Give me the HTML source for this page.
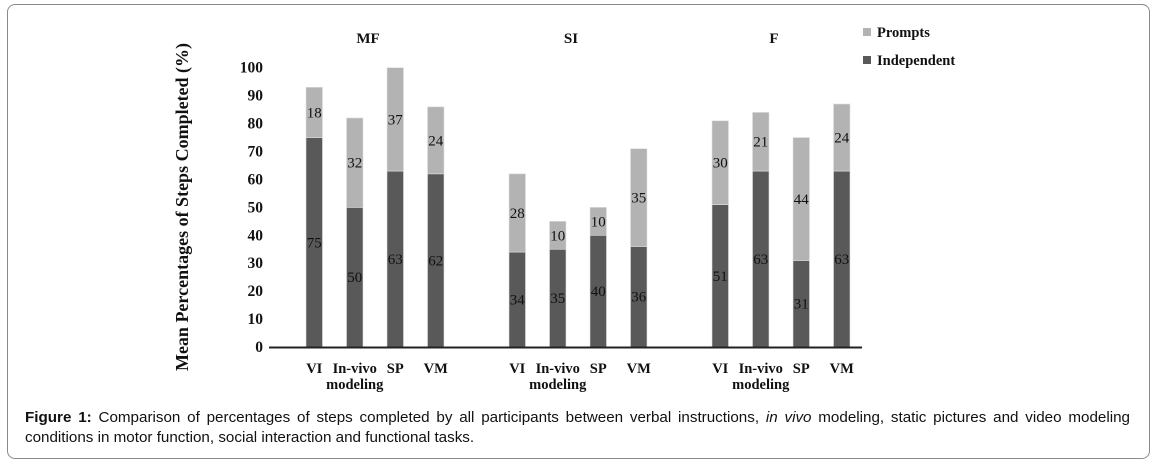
<!DOCTYPE html>
<html><head><meta charset="utf-8"><style>
body{margin:0;background:#fff;}
#wrap{position:relative;width:1158px;height:465px;overflow:hidden;}
#frame{position:absolute;left:7px;top:4px;width:1143px;height:455px;border:1.5px solid #8a8a8a;border-radius:8px;box-sizing:border-box;}
#cap{position:absolute;left:25px;top:408px;width:1105px;font:15.2px "Liberation Sans",Arial,sans-serif;line-height:20px;text-align:justify;text-align-last:left;color:#111;}
svg text{font-family:"Liberation Serif",serif;}
</style></head><body>
<div id="wrap">
<div id="frame"></div>
<svg id="chart" width="1158" height="465" style="position:absolute;left:0;top:0"></svg>
<div id="cap"><b>Figure 1:</b> Comparison of percentages of steps completed by all participants between verbal instructions, <i>in vivo</i> modeling, static pictures and video modeling conditions in motor function, social interaction and functional tasks.</div>
</div>
<script>
const groups = ["MF","SI","F"];
const conditions = ["VI","In-vivo","SP","VM"];
const independent = [[75,50,63,62],[34,35,40,36],[51,63,31,63]];
const prompts = [[18,32,37,24],[28,10,10,35],[30,21,44,24]];
const yTicks = [0,10,20,30,40,50,60,70,80,90,100];

const NS="http://www.w3.org/2000/svg";
const svg=document.getElementById('chart');
function mk(tag,attrs,txt){const e=document.createElementNS(NS,tag);for(const k in attrs)e.setAttribute(k,attrs[k]);if(txt!==undefined)e.textContent=txt;svg.appendChild(e);return e;}
const y0=347, y100=67.7;
function yScale(v){return y0-(y0-y100)*v/100;}
function xScale(g,i){return 375+g*203+(i-1.5)*40.5;}
const BW=16.5;

yTicks.forEach(t=>{
  const e=mk('text',{x:263,y:yScale(t)+5,'text-anchor':'end','font-size':15.5,'font-weight':'bold',fill:'#111'},String(t));
  
  
});
const yt=mk('text',{x:0,y:0,transform:'translate(188,207) rotate(-90)','text-anchor':'middle','font-size':18,'font-weight':'bold',fill:'#111'},'Mean Percentages of Steps Completed (%)');



groups.forEach((gname,g)=>{
  const gt=mk('text',{x:(xScale(g,0)+xScale(g,3))/2-7,y:43,'text-anchor':'middle','font-size':15,'font-weight':'bold',fill:'#111'},gname);
  
  
  conditions.forEach((c,i)=>{
    const cx=xScale(g,i);
    const a=independent[g][i], b=prompts[g][i];
    const r1=mk('rect',{x:cx-BW/2,y:yScale(a),width:BW,height:yScale(0)-yScale(a),fill:'#595959',stroke:'#e0e0e0','stroke-width':0.6});
    
    
    const r2=mk('rect',{x:cx-BW/2,y:yScale(a+b),width:BW,height:yScale(a)-yScale(a+b),fill:'#b3b3b3',stroke:'#e0e0e0','stroke-width':0.6});
    
    
    const l1=mk('text',{x:cx,y:yScale(a/2)+5,'text-anchor':'middle','font-size':15,fill:'#111'},String(a));
    
    
    const l2=mk('text',{x:cx,y:yScale(a+b/2)+5,'text-anchor':'middle','font-size':15,fill:'#111'},String(b));
    
    
    const cl=mk('text',{x:cx,y:373,'text-anchor':'middle','font-size':14.5,'font-weight':'bold',fill:'#111'},c);
    
    
    if(c==='In-vivo'){
      const m=mk('text',{x:cx,y:389,'text-anchor':'middle','font-size':14.5,'font-weight':'bold',fill:'#111'},'modeling');
      
      
    }
  });
});
const ax=mk('line',{x1:269,x2:862,y1:y0+0.5,y2:y0+0.5,stroke:'#222','stroke-width':2});



[['Prompts','#b3b3b3',33],['Independent','#595959',61]].forEach(([n,c,y])=>{
  const s=mk('rect',{x:863,y:y-5,width:8,height:8,fill:c});
  
  
  const t=mk('text',{x:877,y:y+4,'font-size':14.5,'font-weight':'bold',fill:'#111'},n);
  
  
});
</script>
</body></html>
